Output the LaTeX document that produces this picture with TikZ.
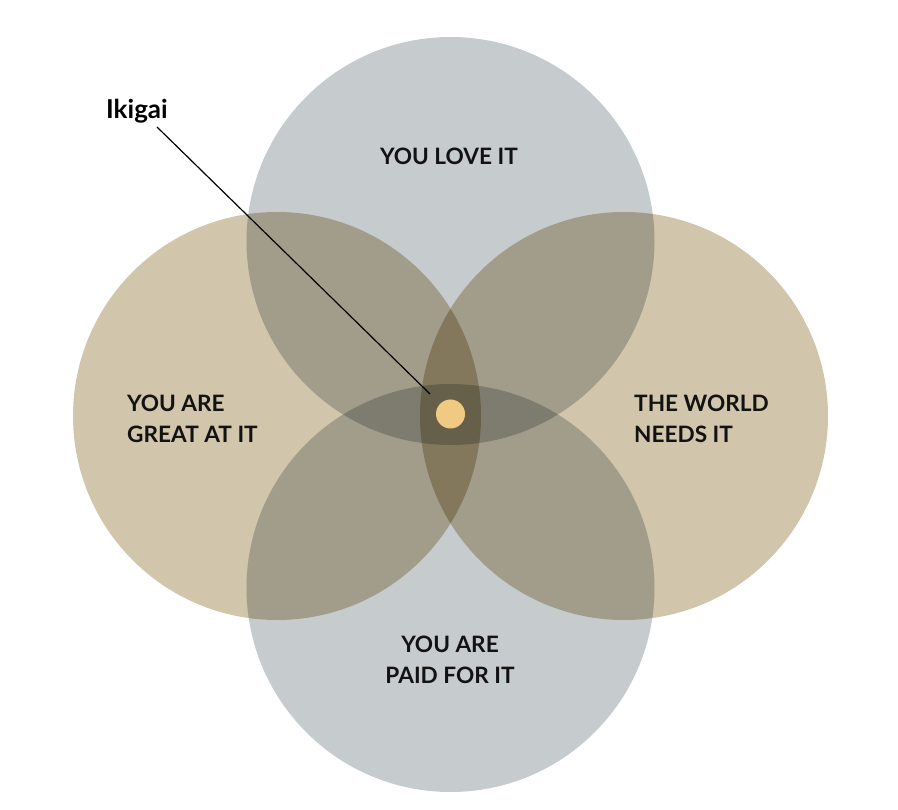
\documentclass[tikz,border=0pt]{standalone}
\usepackage{fontspec}
\setmainfont{Lato}
\usetikzlibrary{positioning}
\definecolor{skygrey}{HTML}{C6CBCE}
\definecolor{sand}{HTML}{D1C5AB}
\definecolor{gold}{HTML}{F0C983}
\begin{document}
\begin{tikzpicture}[x=1pt, y=-1pt,
  ring/.style={circle, minimum size=408pt, inner sep=0pt},
  caption/.style={font=\bfseries\fontsize{22.6}{31}\selectfont, text=black!93, inner sep=0pt}]
\useasboundingbox (0,0) rectangle (898,810);
\begin{scope}[blend group=multiply]
\node [ring, fill=skygrey] (love) at (450.5,241) {};
\node [ring, fill=skygrey] (paid) at (450.5,588) {};
\node [ring, fill=sand] (great) at (277,416) {};
\node [ring, fill=sand] (world) at (624,416) {};
\end{scope}
\node [caption] (lovetext) at (449,156.5) {YOU LOVE IT};
\node [caption, align=left] (greattext) at (192.5,419) {YOU ARE\\GREAT AT IT};
\node [caption, align=left] (worldtext) at (701.5,419) {THE WORLD\\NEEDS IT};
\node [caption, align=center] (paidtext) at (450,660) {YOU ARE\\PAID FOR IT};
\node [circle, fill=gold, minimum size=29pt, inner sep=0pt] (ikigai) at (450.5,414) {};
\node [font=\bfseries\fontsize{26}{30}\selectfont, inner sep=0pt, anchor=base west] (ikigaitext) at (106,119) {Ikigai};
\coordinate (tip) at (157,127);
\draw [line width=1.2pt, shorten >=14pt] (tip) -- (ikigai);
\end{tikzpicture}
\end{document}
